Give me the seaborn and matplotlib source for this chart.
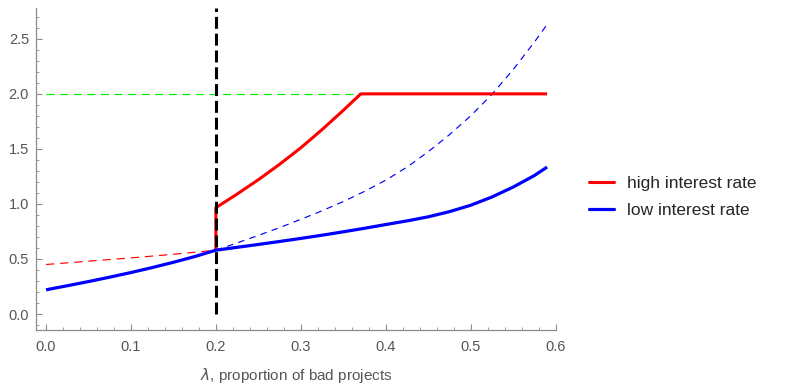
import numpy as np
import pandas as pd
import matplotlib
matplotlib.use("Agg")
import matplotlib.pyplot as plt
from matplotlib.lines import Line2D
from matplotlib.ticker import MultipleLocator, FormatStrFormatter
import seaborn as sns

# ---------------- data ----------------
cutoff = 0.2          # vertical black dashed line
threshold = 2.0       # green dashed level

# low interest rate (solid blue)
lam_low = [0.0, 0.025, 0.05, 0.075, 0.1, 0.125, 0.15, 0.175, 0.2,
           0.225, 0.25, 0.275, 0.3, 0.325, 0.35, 0.375, 0.4, 0.425,
           0.45, 0.475, 0.5, 0.525, 0.55, 0.575, 0.59]
low_rate = [0.22, 0.257, 0.295, 0.335, 0.377, 0.422, 0.470, 0.522, 0.58,
            0.606, 0.632, 0.659, 0.687, 0.716, 0.747, 0.779, 0.813, 0.846,
            0.883, 0.930, 0.988, 1.063, 1.153, 1.258, 1.335]

# continuation of low-rate curve beyond cutoff (thin dashed blue)
lam_low_ext = [0.2, 0.225, 0.25, 0.275, 0.3, 0.325, 0.35, 0.375, 0.4,
               0.425, 0.45, 0.475, 0.5, 0.525, 0.55, 0.575, 0.59]
low_ext = [0.58, 0.646, 0.714, 0.785, 0.86, 0.938, 1.022, 1.114, 1.216,
           1.334, 1.474, 1.629, 1.80, 1.995, 2.22, 2.47, 2.63]

# high interest rate below cutoff (thin dashed red)
lam_high_ext = [0.0, 0.05, 0.1, 0.15, 0.2]
high_ext = [0.45, 0.48, 0.51, 0.543, 0.58]

# high interest rate (solid red), jump at cutoff then capped at 2
lam_high = [0.2, 0.2, 0.225, 0.25, 0.275, 0.3, 0.325, 0.35, 0.3706, 0.59]
high_rate = [0.58, 0.966, 1.09, 1.22, 1.36, 1.51, 1.675, 1.85, 2.0, 2.0]

green_x = [0.0, 0.3706]
green_y = [threshold, threshold]
black_x = [cutoff, cutoff]
black_y = [0.0, 2.78]

labels = ["high interest rate", "low interest rate"]

# ---------------- figure ----------------
sns.set_style("white")
plt.rcParams["font.family"] = ["Liberation Sans", "DejaVu Sans"]

fig = plt.figure(figsize=(7.86, 3.84), dpi=100)
ax = fig.add_axes([36/786, 1-330/384, (556-36)/786, (330-8)/384])

RED = "#ff0000"
BLUE = "#0000ff"
GREEN = "#00ee00"

def line(x, y, **kw):
    df = pd.DataFrame({"x": x, "y": y})
    sns.lineplot(data=df, x="x", y="y", ax=ax, sort=False, estimator=None,
                 legend=False, **kw)

line(green_x, green_y, color=GREEN, lw=0.85, linestyle=(0, (7.0, 4.5)))
line(lam_high_ext, high_ext, color=RED, lw=0.85, linestyle=(0, (7.0, 5.0)))
line(lam_low_ext, low_ext, color=BLUE, lw=0.85, linestyle=(0, (5.5, 4.5)))
line(lam_high, high_rate, color=RED, lw=2.2, solid_capstyle="butt",
     solid_joinstyle="round")
line(lam_low, low_rate, color=BLUE, lw=2.3, solid_capstyle="butt",
     solid_joinstyle="round")
line(black_x, black_y, color="black", lw=2.2, linestyle=(0, (3.9, 1.6)))

ax.set_xlim(-0.0118, 0.6005)
ax.set_ylim(-0.145, 2.78)

ax.xaxis.set_major_locator(MultipleLocator(0.1))
ax.xaxis.set_minor_locator(MultipleLocator(0.02))
ax.yaxis.set_major_locator(MultipleLocator(0.5))
ax.yaxis.set_minor_locator(MultipleLocator(0.1))
ax.xaxis.set_major_formatter(FormatStrFormatter("%.1f"))
ax.yaxis.set_major_formatter(FormatStrFormatter("%.1f"))

gray = "#8c8c8c"
for s in ["top", "right"]:
    ax.spines[s].set_visible(False)
for s in ["left", "bottom"]:
    ax.spines[s].set_color(gray)
    ax.spines[s].set_linewidth(0.9)

ax.tick_params(bottom=True, left=True, top=False, right=False, which="both")
ax.tick_params(which="major", direction="in", length=4.0, width=0.8,
               color=gray, labelcolor="#555555", labelsize=10.5)
ax.tick_params(which="minor", direction="in", length=2.2, width=0.6,
               color=gray)
ax.tick_params(axis="x", which="major", pad=7)
ax.tick_params(axis="y", which="major", pad=5)

ax.set_xlabel(r"$\lambda$, proportion of bad projects", color="#555555",
              fontsize=11, labelpad=9)
ax.set_ylabel("")

handles = [Line2D([], [], color=RED, lw=2.2),
           Line2D([], [], color=BLUE, lw=2.3)]
fig.legend(handles, labels, loc="center left",
           bbox_to_anchor=(589/786, 1-197/384), frameon=False,
           fontsize=12.5, handlelength=1.45, handletextpad=0.75,
           labelspacing=0.72, borderpad=0, borderaxespad=0)

fig.savefig("out.png", dpi=100)
